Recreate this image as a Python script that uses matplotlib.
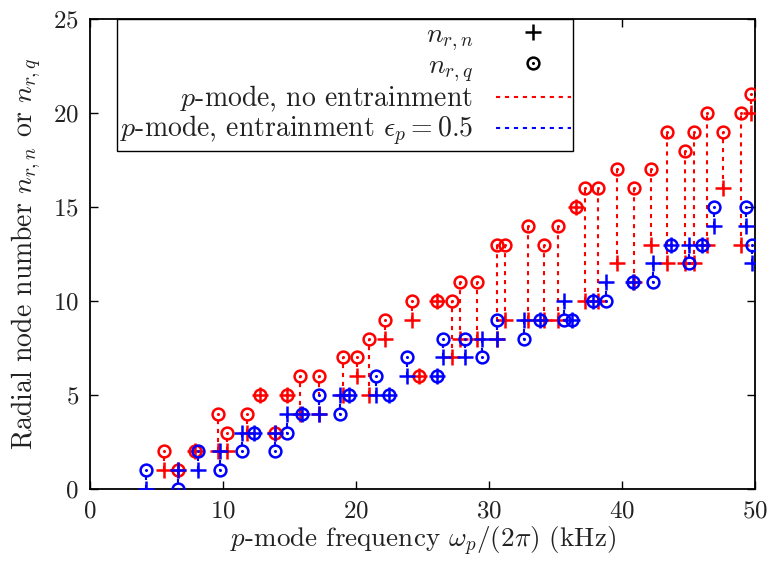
import matplotlib
matplotlib.use("Agg")
import matplotlib.pyplot as plt
from matplotlib.lines import Line2D
from matplotlib.legend_handler import HandlerTuple

plt.rcParams['font.family'] = 'serif'
plt.rcParams['font.serif'] = ['cmr10']
plt.rcParams['mathtext.fontset'] = 'cm'
plt.rcParams['axes.formatter.use_mathtext'] = True

# p-modes without entrainment: frequency (kHz), n_{r,n}, n_{r,q}
red_freq = [5.6, 6.6, 7.9, 9.6, 10.3, 11.8, 12.8, 13.9, 14.8, 15.8, 17.2, 19.0,
            20.1, 21.0, 22.2, 24.2, 24.7, 26.1, 27.2, 27.8, 29.1, 30.6, 31.2,
            32.9, 34.1, 35.2, 36.5, 37.2, 38.2, 39.6, 40.9, 42.2, 43.4, 44.7,
            45.4, 46.4, 47.6, 48.9, 49.7]
red_nrn = [1, 1, 2, 2, 2, 3, 5, 3, 5, 4, 4, 5,
           6, 5, 8, 9, 6, 10, 7, 8, 8, 8, 9,
           9, 9, 9, 15, 10, 10, 12, 11, 13, 12, 12,
           12, 13, 16, 13, 20]
red_nrq = [2, 1, 2, 4, 3, 4, 5, 3, 5, 6, 6, 7,
           7, 8, 9, 10, 6, 10, 10, 11, 11, 13, 13,
           14, 13, 14, 15, 16, 16, 17, 16, 17, 19, 18,
           19, 20, 19, 20, 21]

# p-modes with entrainment eps_p = 0.5
blue_freq = [4.2, 6.6, 8.1, 9.8, 11.4, 12.3, 13.9, 14.8, 15.9, 17.2, 18.8, 19.5,
             21.5, 22.5, 23.8, 26.1, 26.5, 28.2, 29.5, 30.6, 32.6, 33.8, 35.6,
             36.2, 37.8, 38.8, 40.8, 42.3, 43.7, 45.0, 46.0, 46.9, 49.3, 49.8]
blue_nrn = [0, 1, 1, 2, 3, 3, 3, 4, 4, 4, 5, 5,
            5, 5, 6, 6, 7, 7, 8, 8, 9, 9, 10,
            9, 10, 11, 11, 12, 13, 13, 13, 14, 14, 12]
blue_nrq = [1, 0, 2, 1, 2, 3, 2, 3, 4, 5, 4, 5,
            6, 5, 7, 6, 8, 8, 7, 9, 8, 9, 9,
            9, 10, 10, 11, 11, 13, 12, 13, 15, 15, 13]

dots = (0, (2, 2.3))
ms_plus = 11
ms_circ = 8.5
mew = 1.8
text_col = '#222222'


def draw_modes(ax, freq, nrn, nrq, color):
    for f, a, b in zip(freq, nrn, nrq):
        if a != b:
            ax.plot([f, f], [a, b], color=color, lw=1.5, linestyle=dots, zorder=2)
    ax.plot(freq, nrn, linestyle='none', marker='+', ms=ms_plus, mew=mew,
            color=color, zorder=3)
    ax.plot(freq, nrq, linestyle='none', marker='o', ms=ms_circ, mew=mew,
            mfc='none', mec=color, zorder=3)
    ax.plot(freq, nrq, linestyle='none', marker='o', ms=2.2, mew=0,
            color=color, zorder=3)


fig = plt.figure(figsize=(7.69, 5.67), dpi=100)
ax = fig.add_axes([0.117, 0.1376, 0.865, 0.8289])

draw_modes(ax, red_freq, red_nrn, red_nrq, 'red')
draw_modes(ax, blue_freq, blue_nrn, blue_nrq, 'blue')

ax.set_xlim(0, 50)
ax.set_ylim(0, 25)
ax.set_xticks(range(0, 51, 10))
ax.set_yticks(range(0, 26, 5))
ax.tick_params(direction='in', length=6, width=1, top=True, right=True,
               labelsize=18, pad=8, labelcolor=text_col)
for s in ax.spines.values():
    s.set_linewidth(1.3)

ax.set_xlabel(r'$p$-mode frequency $\omega_p/(2\pi)$ (kHz)', fontsize=19.5,
              labelpad=2, color=text_col)
ax.set_ylabel(r'Radial node number $n_{r,n}$ or $n_{r,q}$', fontsize=20,
              labelpad=7, color=text_col)

h_plus = Line2D([], [], linestyle='none', marker='+', ms=ms_plus, mew=mew,
                color='black')
h_circ = Line2D([], [], linestyle='none', marker='o', ms=ms_circ, mew=mew,
                mfc='none', mec='black')
h_dot = Line2D([], [], linestyle='none', marker='o', ms=2.2, mew=0,
               color='black')
h_red = Line2D([], [], color='red', lw=1.5, linestyle=dots)
h_blue = Line2D([], [], color='blue', lw=1.5, linestyle=dots)

leg = ax.legend([h_plus, (h_circ, h_dot), h_red, h_blue],
                [r'$n_{r,n}$', r'$n_{r,q}$', r'$p$-mode, no entrainment',
                 r'$p$-mode, entrainment $\epsilon_p = 0.5$'],
                handler_map={tuple: HandlerTuple(ndivide=1)},
                loc='upper left', bbox_to_anchor=(0.041, 1.0),
                borderaxespad=0, markerfirst=False, fontsize=20,
                handlelength=2.7, handletextpad=0.8, labelspacing=0.0,
                fancybox=False, framealpha=1, edgecolor='black',
                borderpad=0.1, labelcolor=text_col)
leg.get_frame().set_linewidth(1.0)

fig.savefig('out.png', dpi=100)
